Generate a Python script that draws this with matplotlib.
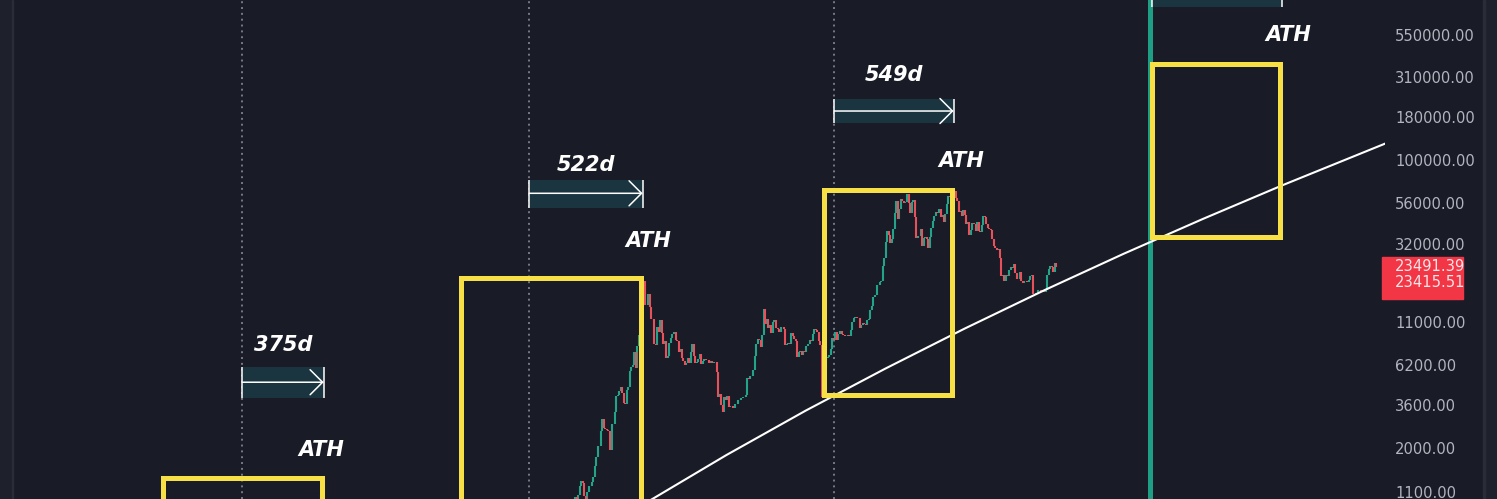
import numpy as np
import pandas as pd
import matplotlib
matplotlib.use("Agg")
import matplotlib.pyplot as plt
import matplotlib.dates as mdates
from matplotlib.patches import Rectangle
from matplotlib.transforms import blended_transform_factory

BG = '#191c26'
UP = '#22a38a'
DOWN = '#e8505b'
YELLOW = '#f7e046'
RANGE_BG = '#1a3540'
TXT = '#b2b5be'

# BTC weekly closes (USD)
close_2017 = [1000, 910, 820, 925, 920, 1025, 1000, 1050, 1180, 1270, 1230, 1030, 965,
              1100, 1190, 1180, 1250, 1350, 1560, 1770, 2050, 2050, 2520, 2950, 2600, 2580,
              2550, 2500, 1930, 2750, 2750, 3230, 4050, 4100, 4350, 4600, 4200, 3700, 3650,
              4400, 4600, 5700, 6000, 6150, 7400, 5900, 8000, 9300, 11300, 15200, 19400,
              13900, 13900]
close_2018 = [16200, 13600, 11500, 11500, 8200, 8100, 10400, 9600, 11400, 9500, 8200, 8500,
              6800, 7000, 8300, 8900, 9400, 9700, 8700, 8500, 7400, 7700, 6800, 6500, 6150,
              6350, 6750, 6350, 7400, 8200, 7000, 6300, 6400, 6700, 7200, 6250, 6500, 6700,
              6600, 6600, 6300, 6500, 6350, 6450, 6400, 5600, 4000, 4150, 3600, 3250, 4000,
              3850]
close_2019 = [4050, 3500, 3550, 3550, 3450, 3650, 3650, 3850, 3850, 3950, 4000, 4000, 4100,
              5200, 5100, 5300, 5300, 5750, 7000, 8200, 8750, 8700, 7900, 9300, 13200, 10800,
              11500, 10200, 10600, 9500, 11000, 11300, 10200, 10100, 9600, 10400, 10300, 10000,
              8050, 8150, 8300, 8200, 9550, 9200, 8800, 8500, 6900, 7400, 7500, 7050, 7500,
              7400]
close_2020 = [8000, 8150, 8700, 8600, 9350, 10100, 9900, 9700, 8550, 8050, 4000, 5850, 5900,
              6800, 6900, 7100, 7700, 8900, 8700, 9700, 8700, 9450, 9750, 9350, 9300, 9100,
              9100, 9250, 9200, 9950, 11100, 11700, 11850, 11650, 11700, 10250, 10700, 10900,
              10750, 10650, 11400, 11500, 13050, 13750, 15500, 15950, 18400, 18200, 19100,
              19250, 23800, 26300]
close_2021 = [33000, 38200, 36000, 32300, 34300, 39300, 48600, 57400, 45200, 51200, 59000,
              57500, 55800, 57000, 63500, 56200, 49000, 56600, 58200, 46400, 34700, 35700,
              35800, 39100, 31000, 34700, 35300, 34300, 30500, 35400, 39900, 43800, 47000,
              49300, 48800, 51800, 46000, 47300, 43200, 48200, 54900, 61500, 60900, 61300,
              67000, 65500, 59700, 57300, 49400, 50100, 46700, 50800]
close_2022 = [47300, 41800, 43100, 36300, 38500, 42400, 42200, 38400, 43200, 38400, 37800,
              41300, 46800, 46400, 42200, 39700, 39500, 38500, 34100, 31300, 30300, 29400,
              29900, 26600, 20600, 21000, 19300, 20900, 20800, 22600, 23300, 23200, 24300,
              21500, 19800, 19800, 21800, 19400, 18800, 19300, 19400, 19200, 19600, 20600,
              20900, 16300, 16300, 16500, 17100, 17100, 16800, 16800]
close_2023 = [16600, 17100, 20900, 22700, 23700, 23400, 21800, 24600, 23491.39]

# the 2013 top, daily closes
top_2013 = [800, 900, 1000, 1050, 1130, 1120, 950, 1050, 1070, 1150, 1000, 800, 700]

halvings = ['2012-11-28', '2016-07-09', '2020-05-11']
next_halving = '2024-04-30'

# yellow cycle boxes: start, end, low, high
box_start = ['2011-11-30', '2015-08-31', '2020-03-26', '2024-05-12']
box_end = ['2013-12-01', '2017-12-04', '2021-11-04', '2025-12-21']
box_low = [2, 150, 4101, 35210]
box_high = [1326, 20160, 66750, 373400]

# halving -> ATH date ranges
range_start = ['2012-11-28', '2016-07-09', '2020-05-11', '2024-05-12']
range_days = [375, 522, 549, 598]
range_low = [3922, 52040, 166100, 808700]
range_high = [6026, 76480, 230300, 1184000]
range_arrow = [4877, 63830, 195600, 961000]
range_label_y = [8100, 93830, 319300, None]

ath_dates = ['2013-11-28', '2018-01-07', '2021-12-16', '2026-01-28']
ath_prices = [1940, 33360, 99060, 550300]

trend_dates = ['2018-01-01', '2019-01-01', '2020-01-01', '2021-01-01', '2022-01-01',
               '2023-01-01', '2024-01-01', '2025-01-01', '2026-01-01', '2027-04-20']
trend_prices = [951, 1807, 3311, 5866, 10120, 17030, 27990, 45080, 71240, 125900]

yticks = [1100, 2000, 3600, 6200, 11000, 32000, 56000, 100000, 180000, 310000, 550000, 960000]


def weekly(start, values):
    return pd.date_range(start, periods=len(values), freq='7D')


dates = np.concatenate([
    weekly('2017-01-01', close_2017), weekly('2018-01-07', close_2018),
    weekly('2019-01-06', close_2019), weekly('2020-01-05', close_2020),
    weekly('2021-01-03', close_2021), weekly('2022-01-02', close_2022),
    weekly('2023-01-01', close_2023)])
closes = np.array(close_2017 + close_2018 + close_2019 + close_2020 + close_2021
                  + close_2022 + close_2023, dtype=float)
dates_2013 = pd.date_range('2013-11-24', periods=len(top_2013), freq='D')


def candles(ax, d, c, lw):
    x = mdates.date2num(d)
    c = np.asarray(c, dtype=float)
    o = np.r_[c[0], c[:-1]]
    up = c >= o
    ax.vlines(x[up], o[up], c[up], color=UP, lw=lw, zorder=3)
    ax.vlines(x[~up], c[~up], o[~up], color=DOWN, lw=lw, zorder=3)


def dnum(s):
    return mdates.date2num(pd.Timestamp(s))


fig = plt.figure(figsize=(14.97, 4.99), dpi=100, facecolor=BG)
W, H = 1497, 499
fig.patches.append(Rectangle((0, 0), 12 / W, 1, transform=fig.transFigure, color='#1e212b'))
fig.patches.append(Rectangle((12 / W, 0), 1.5 / W, 1, transform=fig.transFigure, color='#2a2d37'))
fig.patches.append(Rectangle((1483 / W, 0), 14 / W, 1, transform=fig.transFigure, color='#1e212b'))
fig.patches.append(Rectangle((1483 / W, 0), 1.5 / W, 1, transform=fig.transFigure, color='#2a2d37'))

ax = fig.add_axes([13 / W, 0, 1372 / W, 1])
ax.set_facecolor(BG)
ax.set_yscale('log')

# halving lines
for h in halvings:
    ax.axvline(dnum(h), color='#767a86', lw=1.4, ls=(0, (1, 2)), zorder=1)
ax.axvline(dnum(next_halving), color='#1e9e85', lw=3.6, zorder=2)

# price
candles(ax, dates_2013, top_2013, 1.5)
candles(ax, dates, closes, 1.5)

# trend line
ax.plot([dnum(d) for d in trend_dates], trend_prices, color='white', lw=1.5, zorder=4,
        solid_capstyle='round')

# cycle boxes
for s, e, lo, hi in zip(box_start, box_end, box_low, box_high):
    ax.add_patch(Rectangle((dnum(s), lo), dnum(e) - dnum(s), hi - lo, fill=False,
                           ec=YELLOW, lw=3.6, zorder=5))

label_font = dict(color='white', fontsize=15, fontweight='bold', fontstyle='italic',
                  family='DejaVu Sans', ha='center', va='center', zorder=7)

# date ranges
for s, n, lo, hi, ay, ly in zip(range_start, range_days, range_low, range_high,
                                range_arrow, range_label_y):
    x0 = dnum(s)
    x1 = x0 + n
    ax.add_patch(Rectangle((x0, lo), n, hi - lo, color=RANGE_BG, lw=0, zorder=2))
    ax.vlines([x0, x1], lo, hi, color='white', lw=1.1, zorder=6)
    ax.annotate('', xy=(x1, ay), xytext=(x0, ay), zorder=6,
                arrowprops=dict(arrowstyle='->, head_length=0.45, head_width=0.45',
                                color='white', lw=1.1, mutation_scale=20,
                                shrinkA=0, shrinkB=0))
    if ly is not None:
        ax.text((x0 + x1) / 2, ly, f'{n}d', **label_font)

for d, p in zip(ath_dates, ath_prices):
    ax.text(dnum(d), p, 'ATH', **label_font)

# price axis
ax.yaxis.tick_right()
ax.set_yticks(yticks)
ax.set_yticklabels([f'{v:.2f}' for v in yticks])
ax.yaxis.set_minor_locator(matplotlib.ticker.NullLocator())
ax.tick_params(axis='y', length=0, pad=7.2, labelcolor=TXT, labelsize=10.6)
ax.tick_params(axis='x', bottom=False, labelbottom=False)
for sp in ax.spines.values():
    sp.set_visible(False)

# limits after the ticks, so set_yticks does not widen the view
ax.set_xlim(dnum('2010-01-10'), dnum('2027-04-17'))
ax.set_ylim(995, 886500)

# last price label
tr = blended_transform_factory(ax.transAxes, ax.transData)
ax.add_patch(Rectangle((0.9976, 15085), 0.0595, 26930 - 15085, transform=tr,
                       color='#f23645', clip_on=False, zorder=8))
last = closes[-1]
ax.text(1.0073, last, f'{last:.2f}', transform=tr, color='#f8e6e8', fontsize=10.6,
        va='center', ha='left', zorder=9, clip_on=False)
ax.text(1.0073, 18950, '23415.51', transform=tr, color='#f8e6e8', fontsize=10.6,
        va='center', ha='left', zorder=9, clip_on=False)

fig.savefig('out.png', dpi=100, facecolor=BG)
